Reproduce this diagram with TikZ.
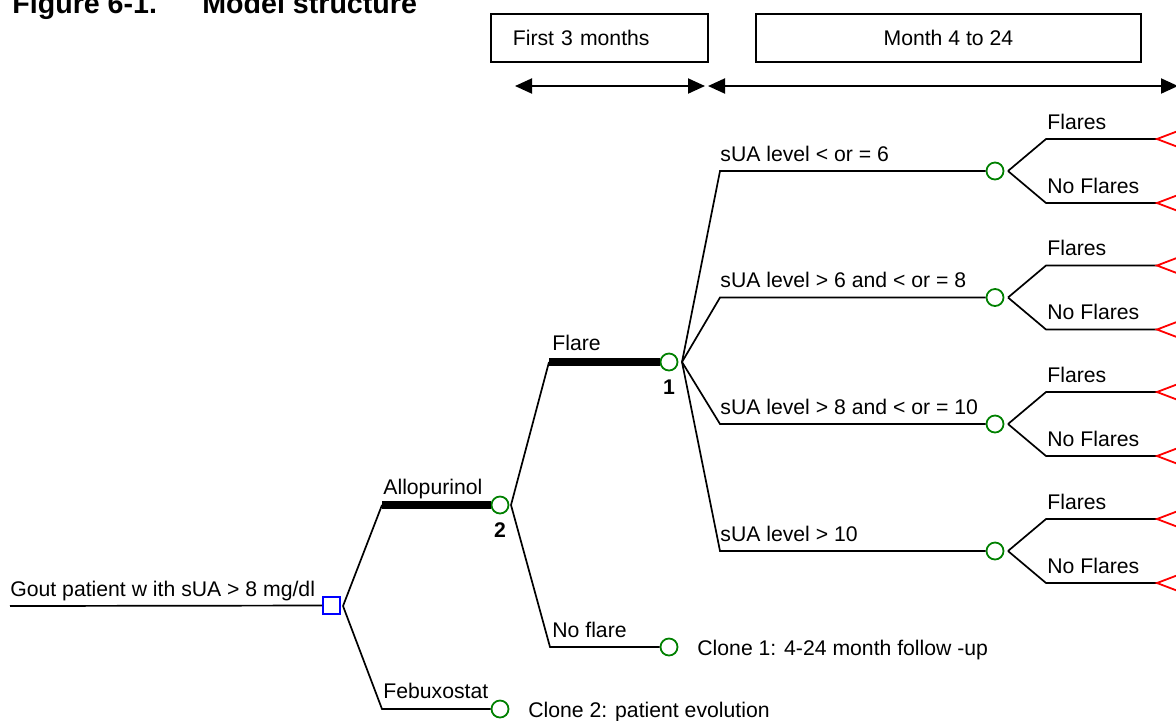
\documentclass[tikz,border=0pt]{standalone}
\usepackage{fontspec}
\setmainfont{Liberation Sans}
\usetikzlibrary{arrows.meta}
\definecolor{tgreen}{RGB}{0,128,0}
\definecolor{tblue}{RGB}{0,0,255}
\definecolor{tred}{RGB}{255,0,0}
\begin{document}
\begin{tikzpicture}[x=0.5pt,y=-0.5pt,
  lbl/.style={anchor=base west,inner sep=0pt,font=\fontsize{10.6pt}{12pt}\selectfont},
  num/.style={anchor=base,inner sep=0pt,font=\bfseries\fontsize{10.6pt}{12pt}\selectfont},
  ttl/.style={anchor=base west,inner sep=0pt,font=\bfseries\fontsize{14.3pt}{16pt}\selectfont},
  branch/.style={line width=0.85pt,black},
  thickbranch/.style={line width=3.7pt,black},
  chance/.style={circle,draw=tgreen,line width=0.9pt,minimum size=8.5pt,inner sep=0pt},
  decision/.style={rectangle,draw=tblue,line width=0.9pt,minimum size=8.5pt,inner sep=0pt},
  terminal/.style={draw=tred,line width=0.9pt},
  box/.style={draw,line width=0.9pt,minimum height=24pt,inner sep=0pt,font=\fontsize{10.6pt}{12pt}\selectfont},
  span/.style={line width=1pt,{Triangle[length=8.5pt,width=7.5pt]}-{Triangle[length=8.5pt,width=7.5pt]}}
]
\useasboundingbox (0,0) rectangle (1176,720);

% title
\node[ttl] (title1) at (12,13) {Figure 6-1.};
\node[ttl] (title2) at (202,13) {Model structure};

% period boxes
\node[box,anchor=north west,minimum width=108.5pt,text width=86.5pt,inner xsep=11pt,align=left] (box1) at (490,13) {First 3 months};
\node[box,anchor=north west,minimum width=192.5pt] (box2) at (755,13) {Month 4 to 24};

% span arrows
\coordinate (s1) at (515,86);
\coordinate (s2) at (705,86);
\coordinate (s3) at (708,86);
\coordinate (s4) at (1178,86);
\draw[span] (s1) -- (s2);
\draw[span] (s3) -- (s4);

% root and decision
\coordinate (root) at (10,606);
\node[decision] (D) at (331.5,605.5) {};
\draw[branch] (root) -- (D.west);
\node[lbl] (lroot) at (10,596) {Gout patient w ith sUA > 8 mg/dl};
\coordinate (aD) at (343,606);

% Allopurinol
\coordinate (kAllo) at (382,505);
\node[chance] (c2) at (500,505) {};
\draw[branch] (aD) -- (kAllo);
\draw[thickbranch] (kAllo) -- (c2.west);
\node[lbl] (lAllo) at (383,494) {Allopurinol};
\node[num] (n2) at (500,537) {2};

% Febuxostat
\coordinate (kFebu) at (382,709);
\node[chance] (c3) at (500,709) {};
\draw[branch] (aD) -- (kFebu) -- (c3.west);
\node[lbl] (lFebu) at (383,698) {Febuxostat};
\node[lbl] (lClone2) at (528,717) {Clone 2: patient evolution};

% from node 2
\coordinate (a2) at (511,505);
\coordinate (kFlare) at (549,362);
\node[chance] (c1) at (669,362) {};
\draw[branch] (a2) -- (kFlare);
\draw[thickbranch] (kFlare) -- (c1.west);
\node[lbl] (lFlare) at (552,350) {Flare};
\node[num] (n1) at (669,394) {1};

\coordinate (kNoFlare) at (550,647);
\node[chance] (c4) at (669,647) {};
\draw[branch] (a2) -- (kNoFlare) -- (c4.west);
\node[lbl] (lNoFlare) at (552,637) {No flare};
\node[lbl] (lClone1) at (697,655) {Clone 1: 4-24 month follow -up};

% from node 1
\coordinate (a1) at (682,362);
\foreach \i/\yy/\txt in {
  1/171/{sUA level < or = 6},
  2/297.5/{sUA level > 6 and < or = 8},
  3/424/{sUA level > 8 and < or = 10},
  4/551/{sUA level > 10}} {
  \coordinate (k\i) at (720,\yy);
  \node[chance] (s\i) at (995,\yy) {};
  \draw[branch] (a1) -- (k\i) -- (s\i.west);
  \node[lbl] (ls\i) at (720,\yy-10) {\txt};
  \coordinate (as\i) at (1008,\yy);
  \coordinate (uf\i) at (1046,\yy-32);
  \coordinate (lf\i) at (1046,\yy+32);
  \coordinate (tu\i) at (1157,\yy-32);
  \coordinate (tl\i) at (1157,\yy+32);
  \draw[branch] (as\i) -- (uf\i) -- (tu\i);
  \draw[branch] (as\i) -- (lf\i) -- (tl\i);
  \draw[terminal] (tu\i) -- ++(21,-8) -- ++(0,16) -- cycle;
  \draw[terminal] (tl\i) -- ++(21,-8) -- ++(0,16) -- cycle;
  \node[lbl] (lfu\i) at (1047,\yy-42) {Flares};
  \node[lbl] (lfl\i) at (1047,\yy+22) {No Flares};
}
\end{tikzpicture}
\end{document}
